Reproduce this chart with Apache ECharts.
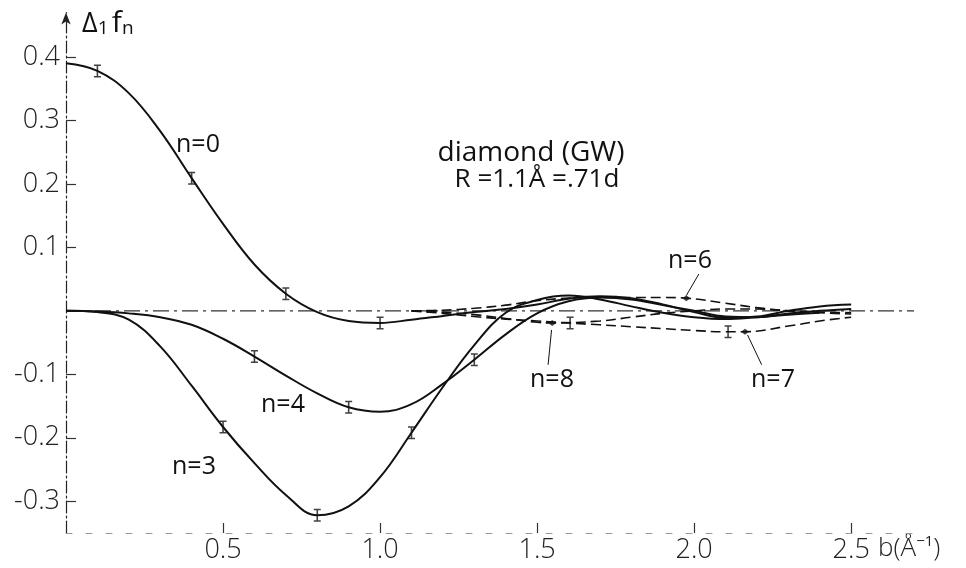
<!DOCTYPE html>
<html>
<head>
<meta charset="utf-8">
<script src="https://cdn.jsdelivr.net/npm/echarts@6/dist/echarts.min.js"></script>
<style>
  html, body { margin: 0; padding: 0; background: #fff; }
  #chart { width: 966px; height: 568px; }
</style>
</head>
<body>
<div id="chart"></div>
<script>
// Δ1 f_n versus b (Å^-1) for diamond (GW), R = 1.1 Å = .71 d

// n = 0
const b0 = [0, 0.1, 0.2, 0.3, 0.4, 0.5, 0.6, 0.7, 0.8, 0.9, 1.0, 1.1, 1.2, 1.3, 1.4, 1.5, 1.6, 1.7, 1.8, 1.9, 2.0, 2.1, 2.2, 2.3, 2.4, 2.5];
const f0 = [0.39, 0.378, 0.343, 0.283, 0.209, 0.137, 0.073, 0.027, -0.002, -0.016, -0.019, -0.014, -0.008, -0.002, 0.003, 0.01, 0.019, 0.023, 0.02, 0.01, -0.002, -0.011, -0.009, 0.0, 0.007, 0.01];
// n = 3
const b3 = [0, 0.1, 0.2, 0.3, 0.4, 0.5, 0.6, 0.7, 0.8, 0.9, 1.0, 1.1, 1.2, 1.3, 1.4, 1.5, 1.6, 1.7, 1.8, 1.9, 2.0, 2.1, 2.2, 2.3, 2.4];
const f3 = [0, -0.002, -0.014, -0.056, -0.118, -0.183, -0.24, -0.29, -0.322, -0.308, -0.262, -0.192, -0.12, -0.054, -0.003, 0.017, 0.024, 0.018, 0.007, -0.003, -0.01, -0.013, -0.01, -0.006, -0.003];
// n = 4
const b4 = [0, 0.1, 0.2, 0.3, 0.4, 0.5, 0.6, 0.7, 0.8, 0.9, 1.0, 1.1, 1.2, 1.3, 1.4, 1.5, 1.6, 1.7, 1.8, 1.9, 2.0, 2.1, 2.2, 2.3, 2.4, 2.5];
const f4 = [0, -0.001, -0.004, -0.01, -0.022, -0.044, -0.072, -0.102, -0.13, -0.152, -0.159, -0.147, -0.115, -0.077, -0.037, -0.004, 0.015, 0.021, 0.018, 0.009, 0.0, -0.009, -0.01, -0.004, 0.0, 0.003];
// n = 6
const b6 = [1.1, 1.2, 1.3, 1.4, 1.5, 1.6, 1.7, 1.8, 1.9, 1.975, 2.1, 2.2, 2.3, 2.4, 2.5];
const f6 = [0, 0.001, 0.004, 0.009, 0.016, 0.02, 0.021, 0.021, 0.021, 0.02, 0.012, 0.005, 0.0, -0.003, -0.005];
// n = 7
const b7 = [1.1, 1.2, 1.3, 1.4, 1.5, 1.6, 1.7, 1.8, 1.9, 2.0, 2.1, 2.162, 2.3, 2.4, 2.5];
const f7 = [0, -0.004, -0.009, -0.013, -0.016, -0.019, -0.022, -0.025, -0.028, -0.031, -0.033, -0.033, -0.024, -0.016, -0.01];
// n = 8
const b8 = [1.1, 1.2, 1.3, 1.4, 1.5, 1.548, 1.7, 1.8, 1.9, 2.0, 2.1, 2.2, 2.3, 2.4, 2.5];
const f8 = [0, -0.002, -0.006, -0.012, -0.018, -0.019, -0.016, -0.01, -0.004, 0.0, 0.003, 0.003, 0.0, -0.002, -0.003];

// error-bar points
const errB0 = [0.1, 0.4, 0.7, 1.0];
const errF0 = [0.378, 0.209, 0.027, -0.019];
const errB3 = [0.5, 0.8, 1.1];
const errF3 = [-0.183, -0.322, -0.192];
const errB4 = [0.6, 0.9, 1.3];
const errF4 = [-0.072, -0.152, -0.077];
const errB7 = [2.108];
const errF7 = [-0.033];
const errB8 = [1.605];
const errF8 = [-0.019];

// labelled points on the dashed curves
const dotB = [1.975, 2.162, 1.548];
const dotF = [0.02, -0.033, -0.019];

// axis ticks
const xTicks = [0.5, 1.0, 1.5, 2.0, 2.5];
const yTicks = [-0.3, -0.2, -0.1, 0.1, 0.2, 0.3, 0.4];

const zip = (xs, ys) => xs.map((x, i) => [x, ys[i]]);

const FONT = '"Open Sans", "DejaVu Sans", sans-serif';
const INK = '#111';
const IBAR = 'path://M0,0h8v1.6h-3.1v10.8h3.1v1.6h-8v-1.6h3.1v-10.8h-3.1z';

const solid = (data) => ({
  type: 'line', data, smooth: 0.4, showSymbol: false, silent: true,
  lineStyle: { color: INK, width: 2 }, z: 3
});
const dashed = (data) => ({
  type: 'line', data, smooth: 0.4, showSymbol: false, silent: true,
  lineStyle: { color: INK, width: 1.6, type: [10, 5] }, z: 3
});
const bars = (data) => ({
  type: 'scatter', data, symbol: IBAR, symbolSize: [7, 13], silent: true,
  itemStyle: { color: INK }, z: 4
});
const pointer = (data) => ({
  type: 'line', data, showSymbol: false, silent: true,
  lineStyle: { color: INK, width: 1 }, z: 2
});

const chart = echarts.init(document.getElementById('chart'), null, { renderer: 'canvas' });

chart.setOption({
  animation: false,
  backgroundColor: '#fff',
  grid: { left: 66, right: 52, top: 12.5, bottom: 35 },
  xAxis: {
    type: 'value', min: 0, max: 2.7,
    axisLine: { show: true, onZero: false, lineStyle: { color: '#999', width: 1, type: [6, 14] } },
    axisTick: { show: true, inside: true, length: 10, customValues: xTicks, lineStyle: { color: '#333', width: 1.2 } },
    axisLabel: {
      customValues: xTicks, margin: 4, color: '#222', fontSize: 27, fontFamily: FONT, fontWeight: 300,
      formatter: (v) => v.toFixed(1)
    },
    splitLine: { show: false }
  },
  yAxis: {
    type: 'value', min: -0.35, max: 0.47,
    axisLine: { show: true, onZero: false, symbol: ['none', 'arrow'], symbolSize: [7, 12],
      lineStyle: { color: '#222', width: 1.2, type: [12, 3, 2, 3] } },
    axisTick: { show: true, inside: true, length: 10, customValues: yTicks, lineStyle: { color: '#333', width: 1.2 } },
    axisLabel: {
      customValues: yTicks, margin: 6, color: '#222', fontSize: 27, fontFamily: FONT, fontWeight: 300,
      formatter: (v) => v.toFixed(1)
    },
    splitLine: { show: false }
  },
  series: [
    // zero reference line (dash-dot)
    {
      type: 'line', data: [[0, 0], [2.7, 0]], showSymbol: false, silent: true,
      lineStyle: { color: '#333', width: 1.3, type: [16, 5, 3, 5] }, z: 1
    },
    solid(zip(b0, f0)),
    solid(zip(b3, f3)),
    solid(zip(b4, f4)),
    dashed(zip(b6, f6)),
    dashed(zip(b7, f7)),
    dashed(zip(b8, f8)),
    bars(zip(errB0, errF0)),
    bars(zip(errB3, errF3)),
    bars(zip(errB4, errF4)),
    bars(zip(errB7, errF7)),
    bars(zip(errB8, errF8)),
    {
      type: 'scatter', data: zip(dotB, dotF), symbol: 'diamond', symbolSize: [8, 6], silent: true,
      itemStyle: { color: INK }, z: 4
    },
    // leader lines from the curve labels
    pointer([[1.975, 0.024], [2.015, 0.058]]),
    pointer([[2.17, -0.038], [2.215, -0.085]]),
    pointer([[1.546, -0.03], [1.535, -0.085]])
  ],
  graphic: [
    { type: 'text', left: 82, top: 8, style: {
        text: '{d|Δ}{s|1} {f|f}{s|n}',
        rich: {
          d: { fontSize: 27, fontFamily: FONT, fill: INK, verticalAlign: 'bottom' },
          f: { fontSize: 30, fontFamily: FONT, fill: INK, verticalAlign: 'bottom' },
          s: { fontSize: 19, fontFamily: FONT, fill: INK, verticalAlign: 'bottom', padding: [14, 0, 0, 0] }
        } } },
    { type: 'text', x: 198, y: 145, style: { text: 'n=0', fontSize: 25, fontFamily: FONT, fill: INK, align: 'center', verticalAlign: 'middle' } },
    { type: 'text', x: 283, y: 405, style: { text: 'n=4', fontSize: 25, fontFamily: FONT, fill: INK, align: 'center', verticalAlign: 'middle' } },
    { type: 'text', x: 194, y: 467, style: { text: 'n=3', fontSize: 25, fontFamily: FONT, fill: INK, align: 'center', verticalAlign: 'middle' } },
    { type: 'text', x: 552, y: 380, style: { text: 'n=8', fontSize: 25, fontFamily: FONT, fill: INK, align: 'center', verticalAlign: 'middle' } },
    { type: 'text', x: 773, y: 380, style: { text: 'n=7', fontSize: 25, fontFamily: FONT, fill: INK, align: 'center', verticalAlign: 'middle' } },
    { type: 'text', x: 690, y: 261, style: { text: 'n=6', fontSize: 25, fontFamily: FONT, fill: INK, align: 'center', verticalAlign: 'middle' } },
    { type: 'text', x: 531, y: 153, style: { text: 'diamond (GW)', fontSize: 28, fontFamily: FONT, fill: INK, align: 'center', verticalAlign: 'middle' } },
    { type: 'text', x: 537, y: 180, style: { text: 'R =1.1Å =.71d', fontSize: 26, fontFamily: FONT, fill: INK, align: 'center', verticalAlign: 'middle' } },
    { type: 'text', x: 878, y: 549, style: {
        text: '{t|b(Å}{sup|−1}{t|)}',
        verticalAlign: 'middle',
        rich: {
          t: { fontSize: 26, fontFamily: FONT, fontWeight: 300, fill: '#222' },
          sup: { fontSize: 15, fontFamily: FONT, fill: '#222', padding: [0, 0, 14, 0] }
        } } }
  ]
});
</script>
</body>
</html>
